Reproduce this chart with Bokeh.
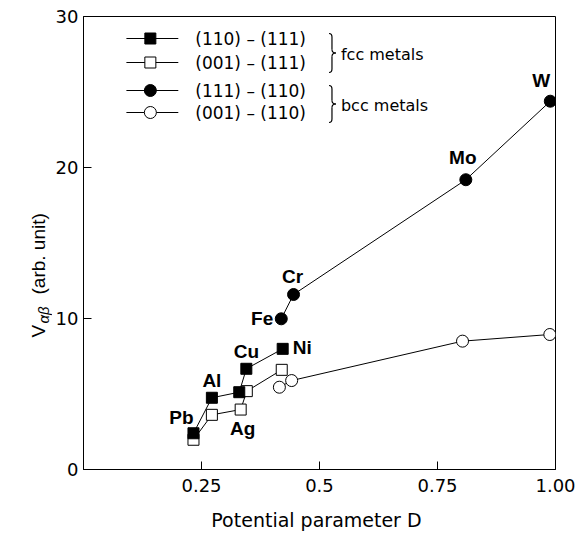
import math
from bokeh.plotting import figure
from bokeh.layouts import row
from bokeh.models import FixedTicker, ColumnDataSource
from bokeh.core.properties import value
from bokeh.embed import file_html
from bokeh.resources import INLINE

# ---------------- data ----------------
fcc_elements = ["Pb", "Al", "Ag", "Cu", "Ni"]
fcc_D_110_111 = [0.233, 0.272, 0.330, 0.345, 0.422]
fcc_V_110_111 = [2.40, 4.75, 5.12, 6.67, 7.99]
fcc_D_001_111 = [0.233, 0.272, 0.333, 0.346, 0.420]
fcc_V_001_111 = [1.97, 3.62, 3.97, 5.19, 6.60]

bcc_elements = ["Fe", "Cr", "Mo", "W"]
bcc_D_111_110 = [0.419, 0.445, 0.810, 0.989]
bcc_V_111_110 = [9.98, 11.59, 19.19, 24.39]
bcc_D_001_110 = [0.415, 0.441, 0.803, 0.988]
bcc_V_001_110 = [5.45, 5.89, 8.50, 8.94]

x_ticks = [0.25, 0.5, 0.75, 1.0]
x_tick_labels = ["0.25", "0.5", "0.75", "1.00"]
y_ticks = [0, 10, 20, 30]
series_labels = ["(110) – (111)", "(001) – (111)", "(111) – (110)", "(001) – (110)"]
group_labels = ["fcc metals", "bcc metals"]
x_title = "Potential parameter  D"
y_title_parts = ["V", "αβ", "(arb. unit)"]

# ---------------- layout ----------------
W, H = 579, 535
LW = 52                      # width of the strip holding the y title
L, R, T, B = 82, 555, 16, 469  # frame edges in window pixels
X0, X1, Y0, Y1 = 0.0, 1.0, 0.0, 30.0


def px2x(px):
    return X0 + (px - L) / (R - L) * (X1 - X0)


def py2y(py):
    return Y0 + (B - py) / (B - T) * (Y1 - Y0)


p = figure(width=W - LW, height=H, x_range=(X0, X1), y_range=(Y0, Y1),
           output_backend="svg", toolbar_location=None,
           min_border_left=L - LW, min_border_right=W - R,
           min_border_top=T, min_border_bottom=H - B)
p.xgrid.visible = False
p.ygrid.visible = False
p.outline_line_color = "black"
p.outline_line_width = 1
p.background_fill_color = "white"
p.border_fill_color = "white"

for ax in (p.xaxis[0], p.yaxis[0]):
    ax.major_tick_in = 8
    ax.major_tick_out = 0
    ax.minor_tick_line_color = None
    ax.axis_line_color = "black"
    ax.major_tick_line_color = "black"
    ax.major_label_text_font = "DejaVu Sans"
    ax.major_label_text_font_size = "18px"
    ax.major_label_text_color = "black"

p.xaxis.ticker = FixedTicker(ticks=x_ticks)
p.xaxis.major_label_overrides = {t: s for t, s in zip(x_ticks, x_tick_labels)}
p.xaxis.major_label_standoff = 9
p.xaxis.axis_label = x_title
p.xaxis.axis_label_text_font = "DejaVu Sans"
p.xaxis.axis_label_text_font_size = "19px"
p.xaxis.axis_label_text_font_style = "normal"
p.xaxis.axis_label_text_color = "black"
p.xaxis.axis_label_standoff = 14

p.yaxis.ticker = FixedTicker(ticks=y_ticks)
p.yaxis.major_label_standoff = 5

# ---------------- series ----------------
line_kw = dict(line_color="black", line_width=1)
p.line(fcc_D_110_111, fcc_V_110_111, **line_kw)
p.line(fcc_D_001_111, fcc_V_001_111, **line_kw)
p.line(bcc_D_111_110, bcc_V_111_110, **line_kw)
p.line(bcc_D_001_110, bcc_V_001_110, **line_kw)

sq = 11
ci = 12
p.scatter(fcc_D_001_111, fcc_V_001_111, marker="square", size=sq,
          fill_color="white", line_color="black", line_width=1)
p.scatter(fcc_D_110_111, fcc_V_110_111, marker="square", size=sq,
          fill_color="black", line_color="black", line_width=1)
p.scatter(bcc_D_001_110, bcc_V_001_110, marker="circle", size=ci,
          fill_color="white", line_color="black", line_width=1)
p.scatter(bcc_D_111_110, bcc_V_111_110, marker="circle", size=ci,
          fill_color="black", line_color="black", line_width=1)

# element labels (anchored on points with pixel offsets)
fcc_anchor_x = [fcc_D_110_111[0], fcc_D_110_111[1], fcc_D_001_111[2], fcc_D_110_111[3], fcc_D_110_111[4]]
fcc_anchor_y = [fcc_V_110_111[0], fcc_V_110_111[1], fcc_V_001_111[2], fcc_V_110_111[3], fcc_V_110_111[4]]
fcc_dx = [-12, 0, 2, 0, 10]
fcc_dy = [-16, -17, 19, -17, -1]
fcc_align = ["center", "center", "center", "center", "left"]
p.text(x="x", y="y", text="t", x_offset="dx", y_offset="dy", text_align="align",
       source=ColumnDataSource(dict(x=fcc_anchor_x, y=fcc_anchor_y, t=fcc_elements,
                                    dx=fcc_dx, dy=fcc_dy, align=fcc_align)),
       text_baseline="middle", text_font=value("Liberation Sans"),
       text_font_style="bold", text_font_size="19px", text_color="black")

bcc_dx = [-8, -1, -3, -9]
bcc_dy = [0, -18, -22, -21]
bcc_align = ["right", "center", "center", "center"]
p.text(x="x", y="y", text="t", x_offset="dx", y_offset="dy", text_align="align",
       source=ColumnDataSource(dict(x=bcc_D_111_110, y=bcc_V_111_110, t=bcc_elements,
                                    dx=bcc_dx, dy=bcc_dy, align=bcc_align)),
       text_baseline="middle", text_font=value("Liberation Sans"),
       text_font_style="bold", text_font_size="19px", text_color="black")

# ---------------- legend (drawn by hand) ----------------
row_py = [38, 62, 90, 112]
markers = [("square", "black"), ("square", "white"), ("circle", "black"), ("circle", "white")]
for (mk, fc), rpy, lab in zip(markers, row_py, series_labels):
    yy = py2y(rpy)
    p.line([px2x(125), px2x(177)], [yy, yy], **line_kw)
    p.scatter([px2x(149)], [yy], marker=mk, size=sq if mk == "square" else ci,
              fill_color=fc, line_color="black", line_width=1)
    p.text([px2x(194)], [yy], text=[lab], text_baseline="middle", text_align="left",
           text_font=value("DejaVu Sans"), text_font_size="17px", text_color="black")

# thin curly braces built from quadratic curves and segments
for gi, glab in enumerate(group_labels):
    top = row_py[2 * gi] - 5
    bot = row_py[2 * gi + 1] + 10
    mid = (top + bot) / 2
    xl, xm, xr = 328, 331, 335
    r = 3.5
    q_x0 = [xl, xm, xr, xm]
    q_y0 = [top, mid - r, mid, bot - r]
    q_x1 = [xm, xr, xm, xl]
    q_y1 = [top + r, mid, mid + r, bot]
    q_cx = [xm, xm, xm, xm]
    q_cy = [top, mid, mid, bot]
    p.quadratic(x0=[px2x(v) for v in q_x0], y0=[py2y(v) for v in q_y0],
                x1=[px2x(v) for v in q_x1], y1=[py2y(v) for v in q_y1],
                cx=[px2x(v) for v in q_cx], cy=[py2y(v) for v in q_cy],
                line_color="black", line_width=1.2)
    p.segment(x0=[px2x(xm), px2x(xm)], y0=[py2y(top + r), py2y(mid + r)],
              x1=[px2x(xm), px2x(xm)], y1=[py2y(mid - r), py2y(bot - r)],
              line_color="black", line_width=1.2)
    p.text([px2x(340)], [py2y(mid + 1)], text=[glab], text_baseline="middle", text_align="left",
           text_font=value("DejaVu Sans"), text_font_size="16px", text_color="black")

# ---------------- y title strip:  V_{αβ} (arb. unit) ----------------
# The row layout aligns this strip's frame with the main frame (T..B), so its
# y range is set so that data y = H - (window pixel y).
s = figure(width=LW, height=H, x_range=(0, LW), y_range=(H - B, H - T),
           output_backend="svg", toolbar_location=None,
           x_axis_location=None, y_axis_location=None,
           min_border_left=0, min_border_right=0, min_border_top=T, min_border_bottom=H - B)
s.grid.visible = False
s.outline_line_color = None
s.background_fill_color = "white"
s.border_fill_color = "white"
s.text([38], [H - 337], text=[y_title_parts[0]], angle=math.pi / 2,
       text_align="left", text_baseline="middle",
       text_font=value("Liberation Sans"), text_font_size="19px", text_color="black")
s.text([43], [H - 323], text=[y_title_parts[1]], angle=math.pi / 2,
       text_align="left", text_baseline="middle", text_font_style="italic",
       text_font=value("Liberation Sans"), text_font_size="15px", text_color="black")
s.text([38], [H - 294], text=[y_title_parts[2]], angle=math.pi / 2,
       text_align="left", text_baseline="middle",
       text_font=value("Liberation Sans"), text_font_size="19px", text_color="black")

layout = row(s, p, spacing=0)
open("out.html", "w").write(file_html(layout, INLINE))
